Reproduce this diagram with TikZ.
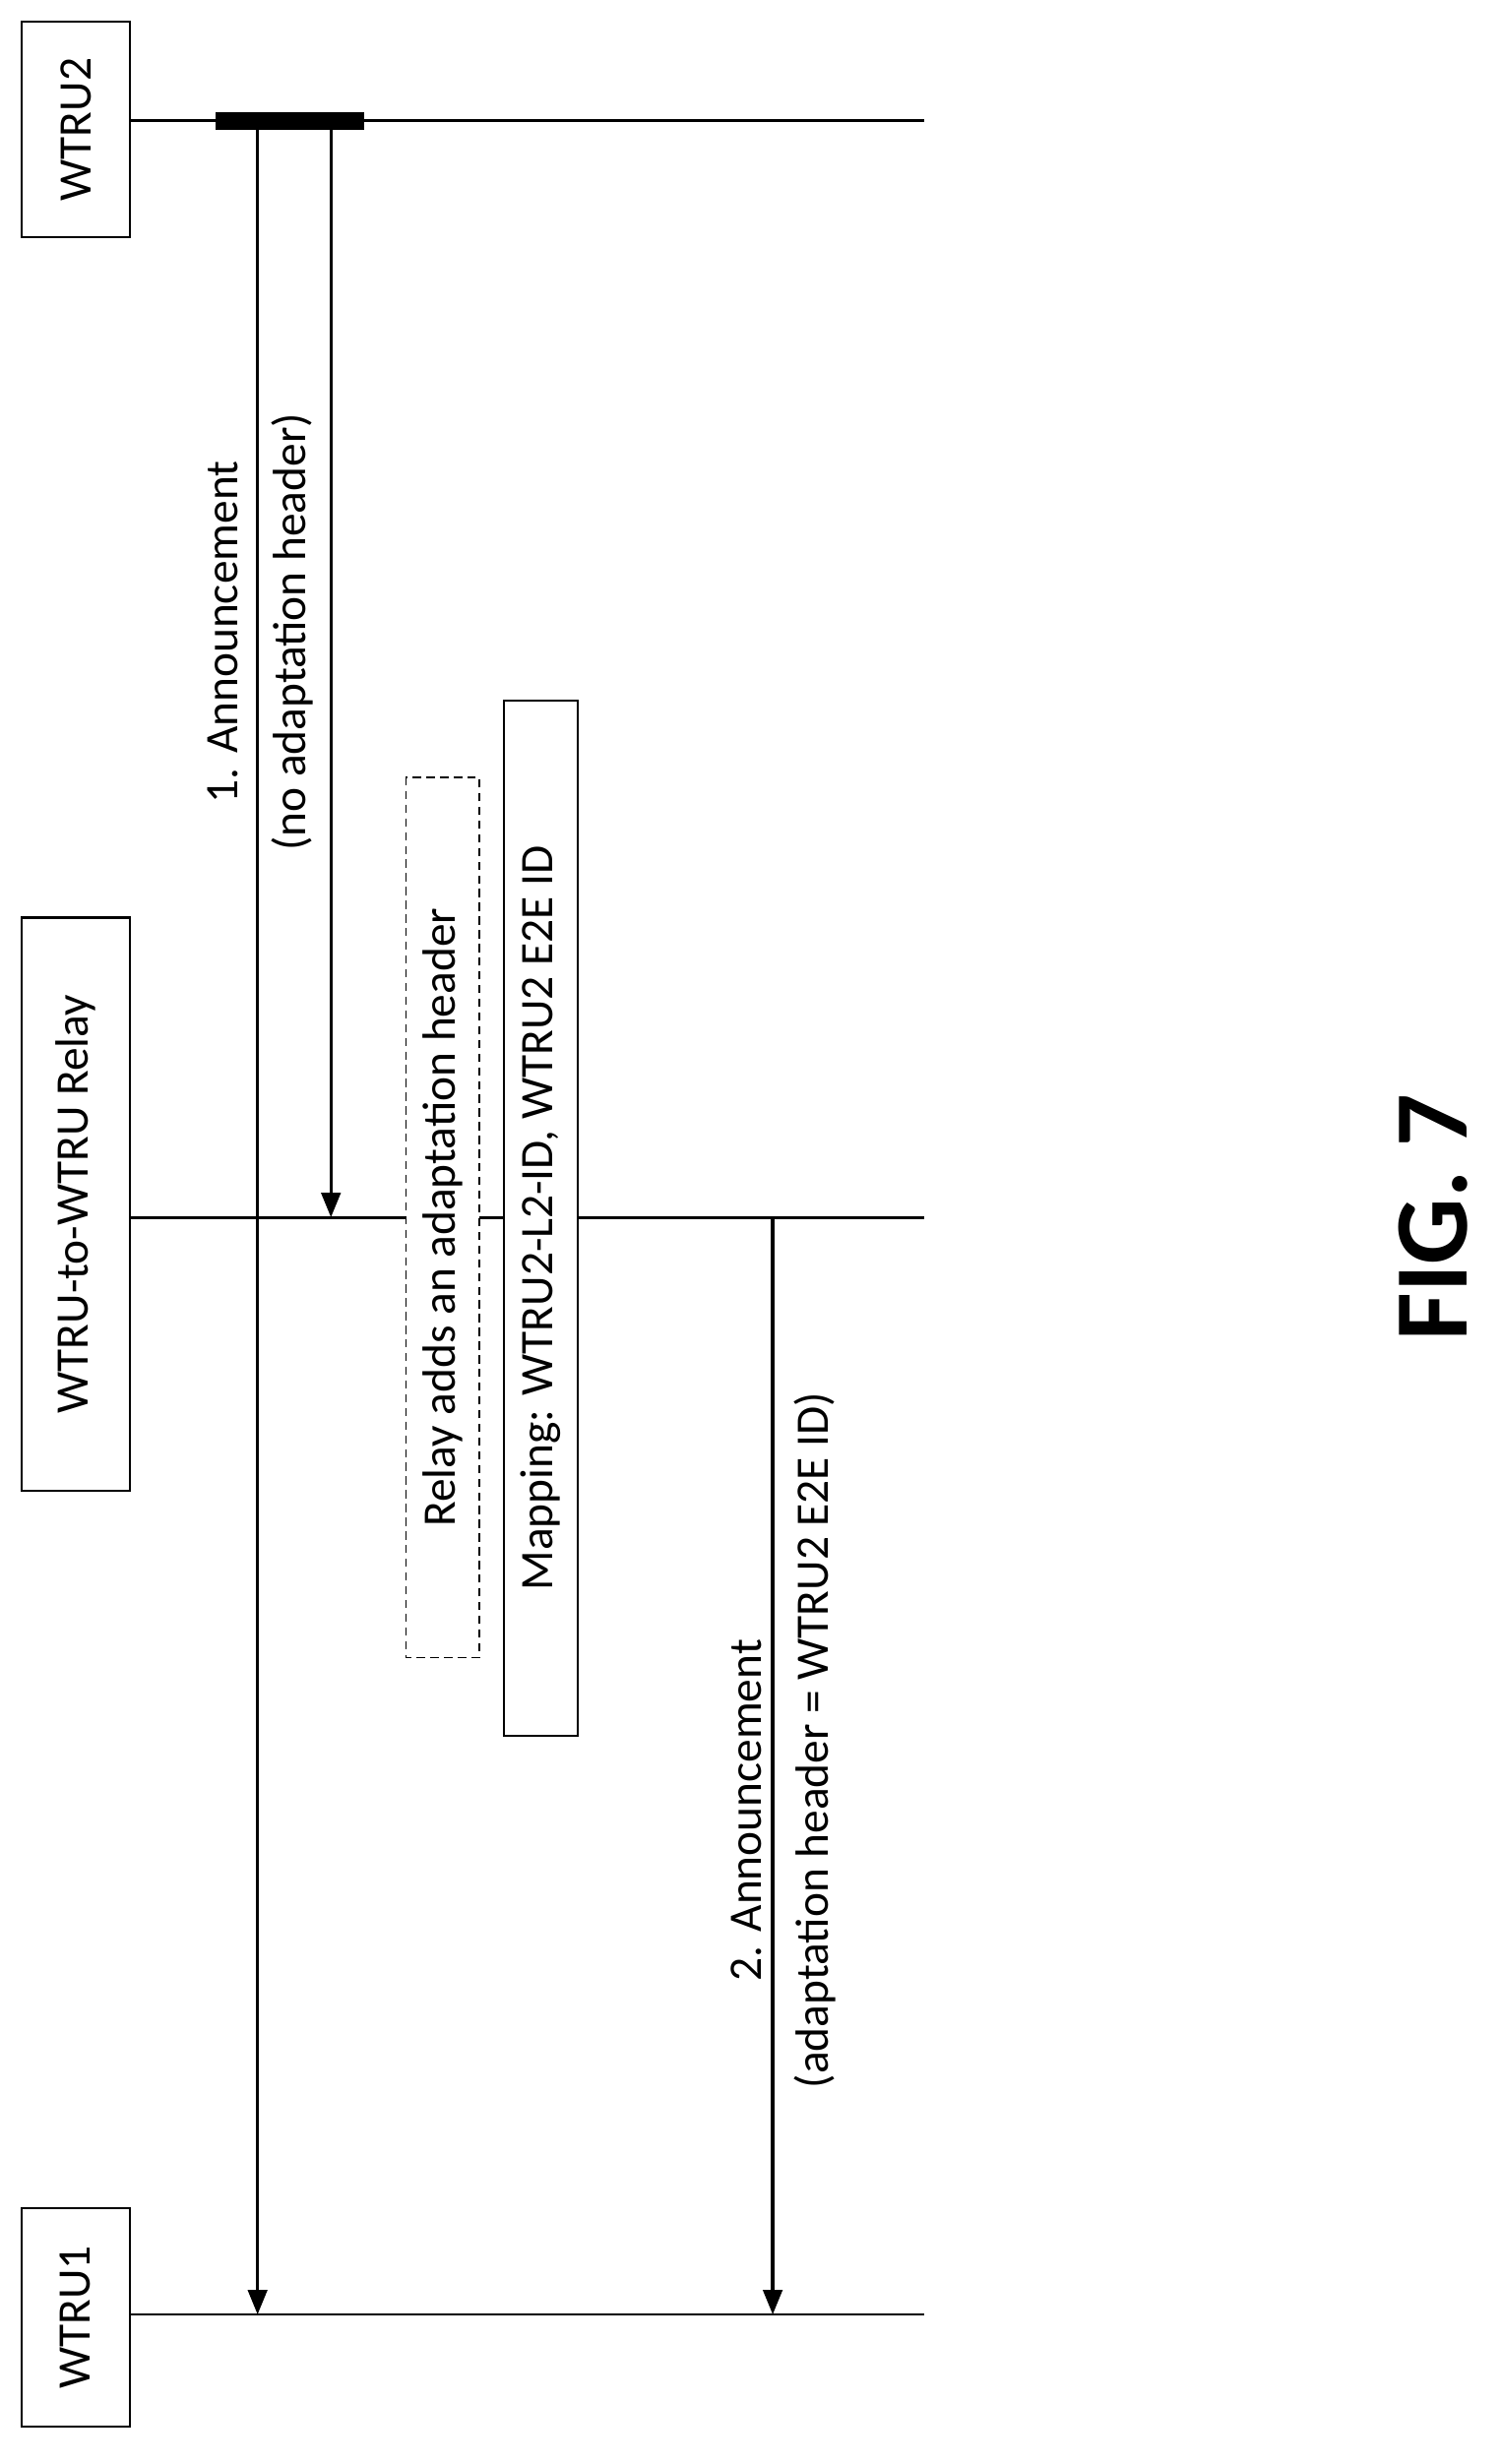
\documentclass[tikz,border=0pt]{standalone}
\usepackage{fontspec}
\setmainfont{Carlito}
\usetikzlibrary{arrows.meta}
\begin{document}
\begin{tikzpicture}[x=0.02cm,y=-0.02cm,
  lbl/.style={rotate=90,font=\fontsize{17}{20}\selectfont,inner sep=0pt},
  entbox/.style={draw,line width=0.8pt,rotate=90,minimum height=69*0.02cm,font=\fontsize{17}{20}\selectfont,anchor=center},
  msg/.style={line width=1.2pt,-{Triangle[length=9pt,width=7pt]}}]%
\useasboundingbox (0,0) rectangle (960.3,1578.8);%
%
\def\xend{592};%
\def\yA{77};%
\def\yB{780};%
\def\yC{1483};%
% entities
\node[entbox,minimum width=138*0.02cm] (wtru2) at (48.5,83) {WTRU2};%
\node[entbox,minimum width=367*0.02cm] (relay) at (48.5,771.5) {WTRU-to-WTRU Relay};%
\node[entbox,minimum width=140*0.02cm] (wtru1) at (48.5,1485) {WTRU1};%
\coordinate (endA) at (\xend,\yA);%
\coordinate (endB) at (\xend,\yB);%
\coordinate (endC) at (\xend,\yC);%
\draw[line width=1pt] (83,\yA) -- (endA);%
\draw[line width=1pt] (83,\yB) -- (endB);%
\draw[line width=1pt] (83,\yC) -- (endC);%
\fill (138,72) rectangle (233,83);%
% messages
\coordinate (s1) at (165,\yA);%
\coordinate (t1) at (165,\yC);%
\coordinate (s2) at (212,\yA);%
\coordinate (t2) at (212,\yB);%
\coordinate (s3) at (495,\yB);%
\coordinate (t3) at (495,\yC);%
\draw[msg] (s1) -- (t1);%
\draw[msg] (s2) -- (t2);%
\draw[msg] (s3) -- (t3);%
\node[lbl] (m1a) at (143,405) {1. Announcement};%
\node[lbl] (m1b) at (187,405) {(no adaptation header)};%
\node[lbl] (m2a) at (478,1160) {2. Announcement};%
\node[lbl] (m2b) at (522,1115) {(adaptation header = WTRU2 E2E ID)};%
% relay actions
\node[lbl,draw,densely dashed,line width=0.5pt,minimum height=47*0.02cm,minimum width=564*0.02cm,fill=white] (add) at (283.5,780) {Relay adds an adaptation header};%
\node[lbl,draw,line width=0.8pt,minimum height=47*0.02cm,minimum width=663*0.02cm,fill=white] (map) at (346.5,780.5) {Mapping: WTRU2-L2-ID, WTRU2 E2E ID};%
%
\node[rotate=90,font=\bfseries\fontsize{38}{44}\selectfont] (fig) at (918,780) {FIG. 7};%
\end{tikzpicture}
\end{document}
